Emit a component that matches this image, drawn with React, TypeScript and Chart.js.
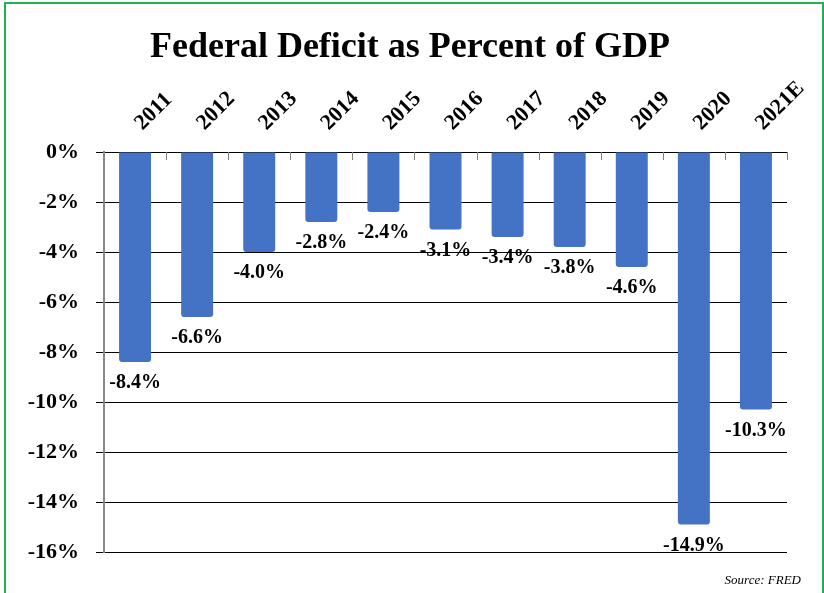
import React, { useEffect, useRef } from 'react';
import { Chart, registerables } from 'chart.js';

Chart.register(...registerables);

const TITLE = 'Federal Deficit as Percent of GDP';
const SOURCE = 'Source: FRED';
const categories = ['2011', '2012', '2013', '2014', '2015', '2016', '2017', '2018', '2019', '2020', '2021E'];
const deficitPct = [-8.4, -6.6, -4.0, -2.8, -2.4, -3.1, -3.4, -3.8, -4.6, -14.9, -10.3];
const yMin = -16;
const yMax = 0;
const yStep = 2;

const SERIF = "'Liberation Serif', 'Times New Roman', serif";

export default function App() {
  const canvasRef = useRef<HTMLCanvasElement | null>(null);

  useEffect(() => {
    const canvas = canvasRef.current;
    if (!canvas) return;

    const decorPlugin = {
      id: 'decor',
      afterDraw(chart: any) {
        const ctx = chart.ctx;
        const area = chart.chartArea;
        ctx.save();
        // title
        ctx.fillStyle = '#000';
        ctx.font = `bold 36px ${SERIF}`;
        ctx.textAlign = 'center';
        ctx.textBaseline = 'alphabetic';
        ctx.fillText(TITLE, 410, 57);
        // source
        ctx.font = `italic 13px ${SERIF}`;
        ctx.textAlign = 'right';
        ctx.fillText(SOURCE, 801, 584);
        // category tick marks below the zero line
        ctx.strokeStyle = '#808080';
        ctx.lineWidth = 1;
        const y0 = chart.scales.y.getPixelForValue(0);
        const n = categories.length;
        const step = (area.right - area.left) / n;
        for (let i = 1; i <= n; i++) {
          const x = Math.round(area.left + step * i) + 0.5;
          ctx.beginPath();
          ctx.moveTo(x, y0);
          ctx.lineTo(x, y0 + 8);
          ctx.stroke();
        }
        ctx.restore();
      },
      afterDatasetsDraw(chart: any) {
        const ctx = chart.ctx;
        const meta = chart.getDatasetMeta(0);
        ctx.save();
        ctx.fillStyle = '#000';
        ctx.font = `bold 20px ${SERIF}`;
        ctx.textAlign = 'center';
        ctx.textBaseline = 'middle';
        meta.data.forEach((bar: any, i: number) => {
          const v = deficitPct[i];
          ctx.fillText(v.toFixed(1) + '%', bar.x, bar.y + 21);
        });
        ctx.restore();
      },
    };

    const chart = new Chart(canvas, {
      type: 'bar',
      data: {
        labels: categories,
        datasets: [
          {
            data: deficitPct,
            backgroundColor: '#4472C4',
            borderRadius: 3,
            borderSkipped: 'start',
            categoryPercentage: 1,
            barPercentage: 0.515,
          },
        ],
      },
      options: {
        animation: false,
        responsive: false,
        maintainAspectRatio: false,
        layout: { padding: { left: 0, top: 0, right: 37, bottom: 41 } },
        plugins: {
          legend: { display: false },
          title: { display: false },
          tooltip: { enabled: false },
        },
        scales: {
          x: {
            position: 'top',
            grid: { display: false, drawTicks: false },
            border: { display: false },
            ticks: {
              color: '#000',
              font: { family: SERIF, size: 22, weight: 'bold' },
              minRotation: 45,
              maxRotation: 45,
              padding: 16,
              labelOffset: 22,
              autoSkip: false,
            },
            afterFit(scale: any) {
              scale.height = 152;
            },
          },
          y: {
            min: yMin,
            max: yMax,
            grid: {
              color: '#000',
              lineWidth: 1,
              tickLength: 8,
              drawTicks: true,
            },
            border: { display: true, color: '#8a8a8a', width: 2 },
            ticks: {
              stepSize: yStep,
              color: '#000',
              font: { family: SERIF, size: 22, weight: 'bold' },
              padding: 17,
              callback: (v: any) => `${v}%`,
            },
            afterFit(scale: any) {
              scale.width = 104;
            },
          },
        },
      },
      plugins: [decorPlugin],
    });

    return () => chart.destroy();
  }, []);

  return (
    <div style={{ position: 'absolute', left: 0, top: 0, width: 824, height: 593, overflow: 'hidden', background: '#fff' }}>
      <canvas ref={canvasRef} width={824} height={593} style={{ display: 'block', width: 824, height: 593 }} />
      <div
        style={{
          position: 'absolute',
          left: 4,
          top: 2,
          width: 816,
          height: 640,
          border: '2px solid #1DB350',
          pointerEvents: 'none',
        }}
      />
    </div>
  );
}
